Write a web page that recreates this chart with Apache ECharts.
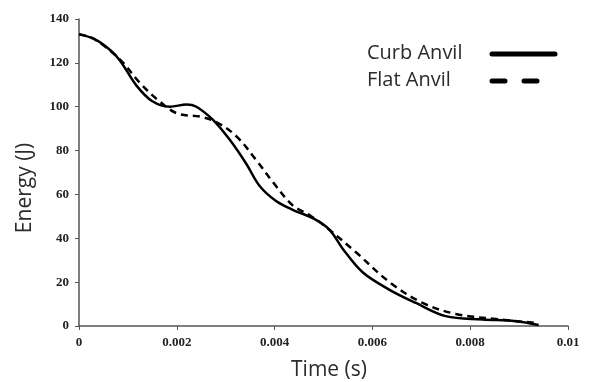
<!DOCTYPE html>
<html><head><meta charset="utf-8">
<script src="https://cdn.jsdelivr.net/npm/echarts@6/dist/echarts.min.js"></script>
<style>html,body{margin:0;padding:0;background:#fff}#c{width:594px;height:382px}</style>
</head><body><div id="c"></div>
<script>
var curbTime = [0,0.0003,0.00063,0.00084,0.00118,0.0015,0.00186,0.0022,0.0024,0.00274,0.00308,0.00342,0.00369,0.00403,0.00437,0.0048,0.00512,0.0054,0.0058,0.00635,0.00689,0.0075,0.00825,0.00893,0.0094];
var curbEnergy = [133,131,126,121,109.5,102.5,100,101,100,94,85,74,64,57,53,49,44,35,24.5,16.5,10.5,4.5,3,2.2,0.5];
var flatTime = [0,0.0003,0.00084,0.00124,0.00159,0.002,0.00247,0.00281,0.00322,0.00363,0.00397,0.00437,0.00472,0.00506,0.00567,0.00635,0.00703,0.00771,0.0086,0.0093];
var flatEnergy = [133,131,121.5,111,103.5,97,95.5,93,86.5,75.5,65.5,55,50.5,45,33.5,20,10.5,5.5,3,1.5];
var seriesNames = ['Curb Anvil','Flat Anvil'];
var xTickLabels = ['0','0.002','0.004','0.006','0.008','0.01'];
var xTitle = 'Time (s)';
var yTitle = 'Energy (J)';

function pairs(t,e){return t.map(function(v,i){return [v,e[i]];});}
var chart = echarts.init(document.getElementById('c'), null, {renderer:'canvas'});
var axisLabelStyle = {fontFamily:'Liberation Serif', fontWeight:'bold', fontSize:13, color:'#222'};
var legendFont = {fontFamily:'Open Sans', fontSize:20, fill:'#2b2b2b'};
var titleFont = {fontFamily:'Open Sans', fontSize:21, fill:'#2b2b2b', textAlign:'center', textVerticalAlign:'middle'};
chart.setOption({
  animation:false,
  grid:{left:79,right:26,top:19,bottom:56,containLabel:false},
  graphic:[
    {type:'text',x:367,y:53,style:Object.assign({text:seriesNames[0],textVerticalAlign:'middle'},legendFont)},
    {type:'text',x:367,y:80,style:Object.assign({text:seriesNames[1],textVerticalAlign:'middle'},legendFont)},
    {type:'line',shape:{x1:492,y1:54,x2:555,y2:54},style:{stroke:'#000',lineWidth:5,lineCap:'round'}},
    {type:'line',shape:{x1:492,y1:81,x2:540,y2:81},style:{stroke:'#000',lineWidth:5,lineCap:'round',lineDash:[13,19]}},
    {type:'text',x:329,y:370,style:Object.assign({text:xTitle},titleFont)},
    {type:'text',x:25,y:188,rotation:Math.PI/2,style:Object.assign({text:yTitle},titleFont)}
  ],
  xAxis:{type:'value',min:0,max:0.01,interval:0.002,
    axisLine:{lineStyle:{color:'#555',width:1.5}},
    axisTick:{show:true,length:4,lineStyle:{color:'#555'}},
    splitLine:{show:false},
    axisLabel:Object.assign({margin:10,formatter:function(v,i){return xTickLabels[i];}},axisLabelStyle)
  },
  yAxis:{type:'value',min:0,max:140,interval:20,
    axisLine:{show:true,lineStyle:{color:'#555',width:1.5}},
    axisTick:{show:true,length:4,lineStyle:{color:'#555'}},
    splitLine:{show:false},
    axisLabel:Object.assign({margin:10},axisLabelStyle)
  },
  series:[
    {name:seriesNames[0],type:'line',smooth:0.35,symbol:'none',data:pairs(curbTime,curbEnergy),
     lineStyle:{color:'#000',width:2.5},itemStyle:{color:'#000'}},
    {name:seriesNames[1],type:'line',smooth:0.35,symbol:'none',data:pairs(flatTime,flatEnergy),
     lineStyle:{color:'#000',width:2.5,type:[7,5]},itemStyle:{color:'#000'}}
  ]
});
</script></body></html>
